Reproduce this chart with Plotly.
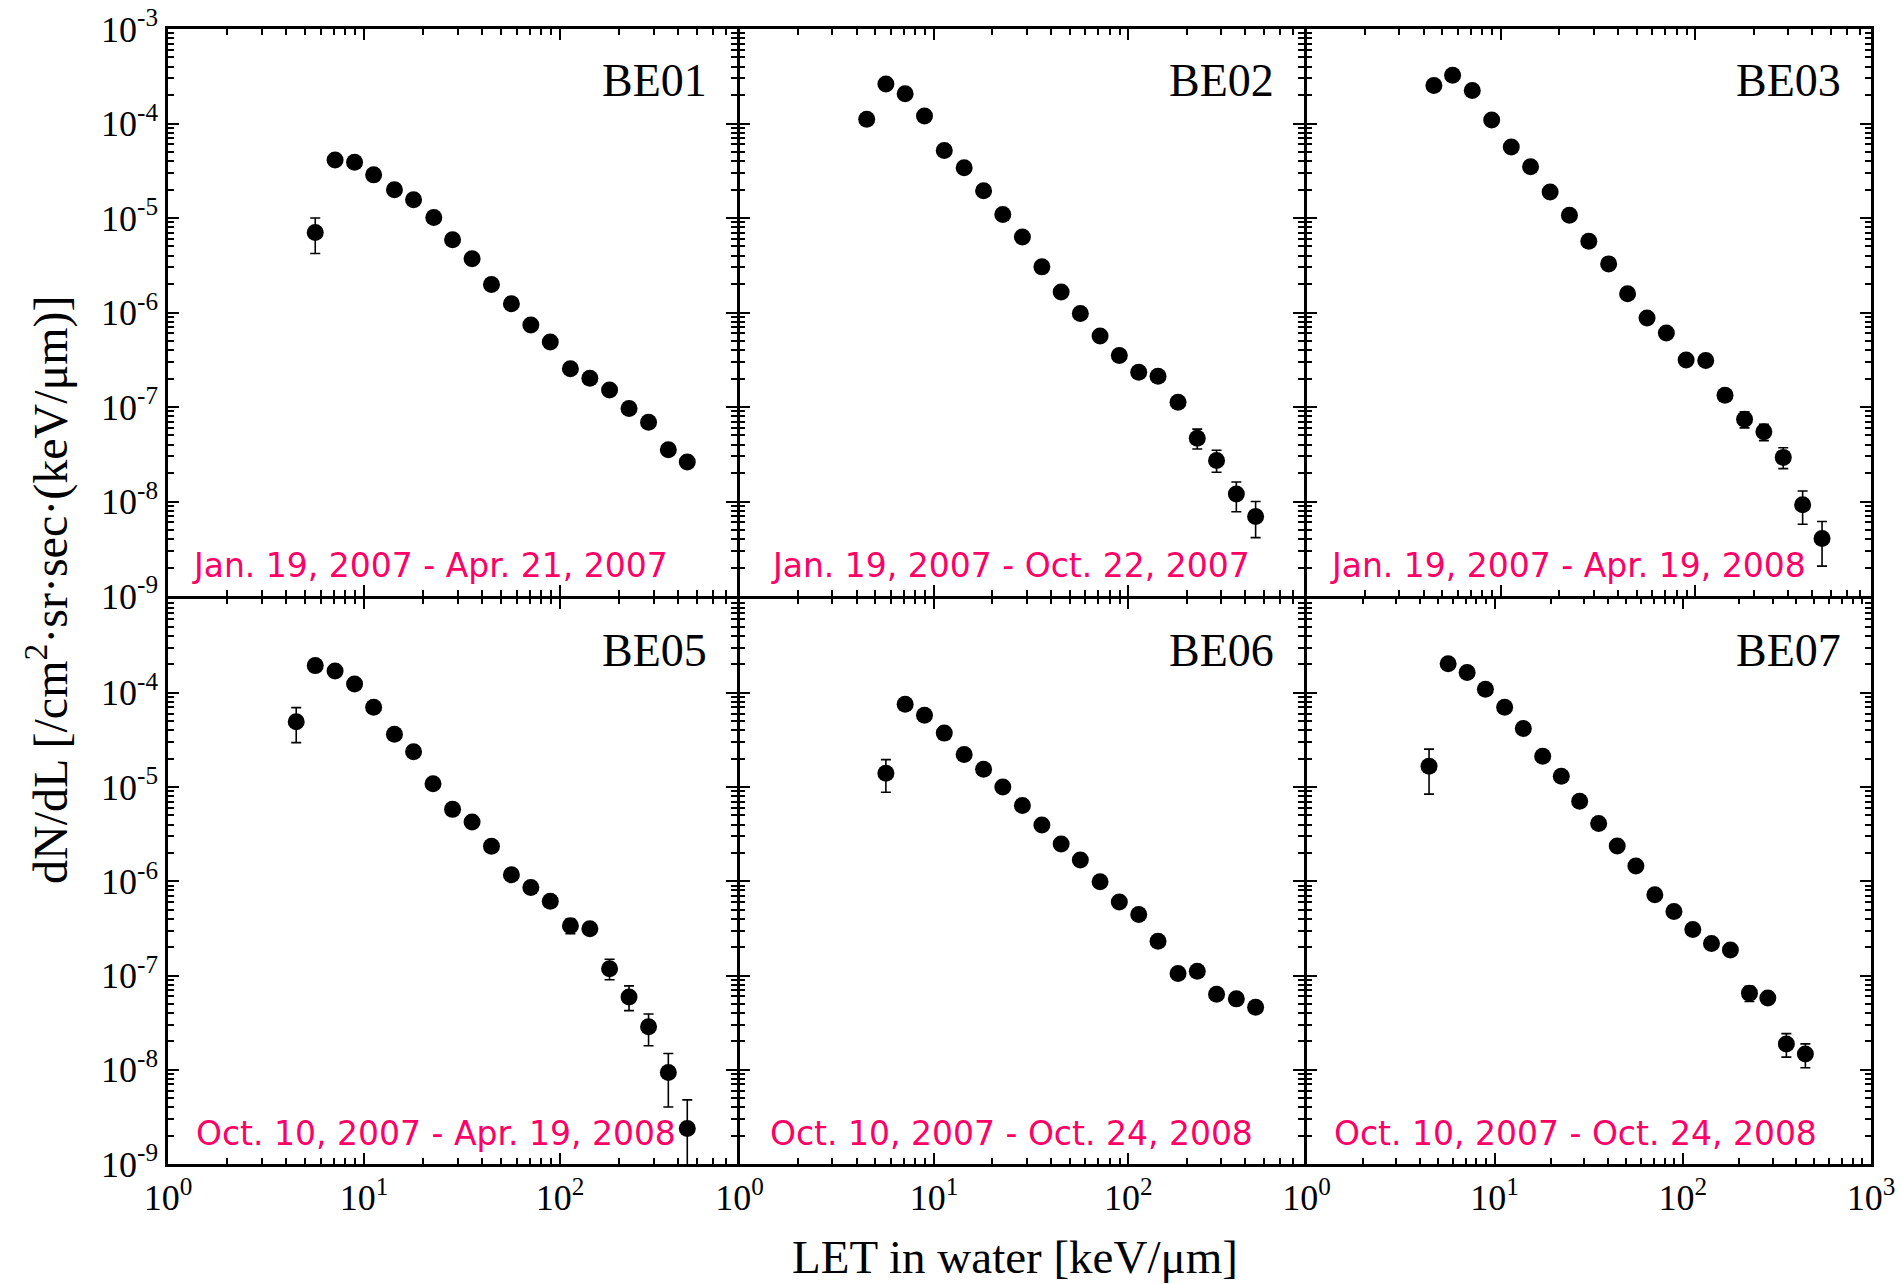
import plotly.graph_objects as go

# ---------------------------------------------------------------- data
# LET in water [keV/um] and differential flux dN/dL [/cm2 sr sec (keV/um)]
let_be01 = [5.64, 7.12, 8.95, 11.2, 14.3, 17.9, 22.7, 28.3, 35.6, 44.7, 56.5, 71.0, 89.2, 113, 142, 179, 225, 283, 357, 446]
flux_be01 = [7.03e-6, 4.11e-5, 3.89e-5, 2.86e-5, 1.99e-5, 1.56e-5, 1.01e-5, 5.89e-6, 3.70e-6, 1.98e-6,
             1.24e-6, 7.39e-7, 4.86e-7, 2.54e-7, 2.01e-7, 1.51e-7, 9.64e-8, 6.89e-8, 3.52e-8, 2.62e-8]
errp_be01 = [2.97e-6] + [0] * 19
errm_be01 = [2.82e-6] + [0] * 19

let_be02 = [4.51, 5.66, 7.11, 8.94, 11.3, 14.3, 18.0, 22.6, 28.5, 35.9, 45.1, 56.6, 71.5, 89.8, 113, 142, 180, 226, 284, 359, 451]
flux_be02 = [1.11e-4, 2.62e-4, 2.07e-4, 1.20e-4, 5.19e-5, 3.41e-5, 1.94e-5, 1.09e-5, 6.28e-6, 3.04e-6, 1.65e-6,
             9.77e-7, 5.65e-7, 3.51e-7, 2.33e-7, 2.12e-7, 1.12e-7, 4.66e-8, 2.72e-8, 1.20e-8, 6.92e-9]
errp_be02 = [1.5e-5] + [0] * 16 + [1.17e-8, 0.77e-8, 0.41e-8, 3.08e-9]
errm_be02 = [1.5e-5] + [0] * 16 + [1.06e-8, 0.68e-8, 0.42e-8, 2.77e-9]

let_be03 = [4.52, 5.64, 7.12, 8.96, 11.3, 14.2, 17.9, 22.5, 28.3, 35.8, 44.8, 56.4, 70.9, 89.6, 113, 142, 179, 225, 283, 356, 448]
flux_be03 = [2.52e-4, 3.24e-4, 2.24e-4, 1.09e-4, 5.65e-5, 3.48e-5, 1.88e-5, 1.07e-5, 5.67e-6, 3.27e-6, 1.58e-6,
             8.73e-7, 6.08e-7, 3.14e-7, 3.11e-7, 1.33e-7, 7.42e-8, 5.46e-8, 2.93e-8, 9.25e-9, 4.07e-9]
errp_be03 = [0] * 16 + [1.5e-8, 1.12e-8, 0.77e-8, 3.65e-9, 2.07e-9]
errm_be03 = [0] * 16 + [1.4e-8, 1.05e-8, 0.70e-8, 3.50e-9, 2.00e-9]

let_be05 = [4.51, 5.64, 7.12, 8.95, 11.2, 14.3, 17.9, 22.5, 28.3, 35.6, 44.7, 56.5, 71.0, 89.2, 113, 142, 179, 225, 283, 357, 446]
flux_be05 = [4.93e-5, 1.94e-4, 1.70e-4, 1.24e-4, 7.03e-5, 3.63e-5, 2.37e-5, 1.08e-5, 5.79e-6, 4.26e-6, 2.35e-6,
             1.17e-6, 8.59e-7, 6.14e-7, 3.38e-7, 3.14e-7, 1.18e-7, 5.93e-8, 2.86e-8, 9.35e-9, 2.38e-9]
errp_be05 = [2.03e-5] + [0] * 13 + [0.6e-7, 0, 3.1e-8, 1.83e-8, 1.04e-8, 5.55e-9, 2.41e-9]
errm_be05 = [1.97e-5] + [0] * 13 + [0.6e-7, 0, 2.8e-8, 1.69e-8, 1.06e-8, 5.33e-9, 3.0e-9]

let_be06 = [5.66, 7.11, 8.94, 11.3, 14.3, 18.0, 22.6, 28.5, 35.9, 45.1, 56.6, 71.5, 89.8, 113, 142, 180, 226, 284, 359, 451]
flux_be06 = [1.40e-5, 7.57e-5, 5.78e-5, 3.73e-5, 2.21e-5, 1.54e-5, 1.00e-5, 6.36e-6, 3.95e-6, 2.48e-6,
             1.68e-6, 9.87e-7, 6.02e-7, 4.43e-7, 2.31e-7, 1.05e-7, 1.11e-7, 6.32e-8, 5.65e-8, 4.61e-8]
errp_be06 = [5.5e-6] + [0] * 16 + [0.5e-8, 0, 0]
errm_be06 = [5.2e-6] + [0] * 16 + [0.5e-8, 0, 0]

let_be07 = [4.48, 5.66, 7.14, 8.93, 11.3, 14.2, 18.0, 22.6, 28.3, 35.7, 44.8, 56.3, 71.0, 89.7, 113, 142, 179, 226, 283, 355, 448]
flux_be07 = [1.66e-5, 2.03e-4, 1.64e-4, 1.09e-4, 7.03e-5, 4.18e-5, 2.12e-5, 1.30e-5, 7.05e-6, 4.10e-6, 2.37e-6,
             1.45e-6, 7.19e-7, 4.78e-7, 3.08e-7, 2.18e-7, 1.86e-7, 6.50e-8, 5.76e-8, 1.88e-8, 1.47e-8]
errp_be07 = [8.6e-6] + [0] * 16 + [1.2e-8, 0, 0.54e-8, 0.41e-8]
errm_be07 = [8.2e-6] + [0] * 16 + [1.2e-8, 0, 0.52e-8, 0.42e-8]

detectors = ["BE01", "BE02", "BE03", "BE05", "BE06", "BE07"]
periods = ["Jan. 19, 2007 - Apr. 21, 2007", "Jan. 19, 2007 - Oct. 22, 2007", "Jan. 19, 2007 - Apr. 19, 2008",
           "Oct. 10, 2007 - Apr. 19, 2008", "Oct. 10, 2007 - Oct. 24, 2008", "Oct. 10, 2007 - Oct. 24, 2008"]

x_tickvals = [1, 10, 100, 1000]
x_ticktext = ["10<sup>0</sup>", "10<sup>1</sup>", "10<sup>2</sup>", "10<sup>3</sup>"]
y_tickvals = [1e-3, 1e-4, 1e-5, 1e-6, 1e-7, 1e-8, 1e-9]
y_ticktext = ["10<sup>-3</sup>", "10<sup>-4</sup>", "10<sup>-5</sup>", "10<sup>-6</sup>",
              "10<sup>-7</sup>", "10<sup>-8</sup>", "10<sup>-9</sup>"]

series = [
    (let_be01, flux_be01, errp_be01, errm_be01),
    (let_be02, flux_be02, errp_be02, errm_be02),
    (let_be03, flux_be03, errp_be03, errm_be03),
    (let_be05, flux_be05, errp_be05, errm_be05),
    (let_be06, flux_be06, errp_be06, errm_be06),
    (let_be07, flux_be07, errp_be07, errm_be07),
]

# ---------------------------------------------------------------- layout geometry (pixels)
# Neighbouring frames are offset by one line width so their shared border
# is drawn as a single line.
W, H = 1901, 1284
LW = 2.5
col_px = [(168, 737), (737 + LW, 1304), (1304 + LW, 1871)]
row_px = [(29, 596), (596 + LW, 1164)]
x_log_ranges = [[0, 2.903]] * 5 + [[0, 3]]
date_xshift = [22, 29, 21, 26, 28, 25]

SERIF = "Liberation Serif"
PINK = "#FF0066"

fig = go.Figure()
layout = {}
annotations = []

for i, (lx, fy, ep, em) in enumerate(series):
    n = i + 1
    r, c = divmod(i, 3)
    xs = "" if n == 1 else str(n)
    fig.add_trace(go.Scatter(
        x=lx, y=fy, mode="markers", xaxis="x" + xs, yaxis="y" + xs,
        marker=dict(symbol="circle", size=17, color="black"),
        error_y=dict(type="data", symmetric=False, array=ep, arrayminus=em,
                     color="black", thickness=1.6, width=5),
        showlegend=False, hoverinfo="x+y",
    ))

    x0, x1 = col_px[c]
    y0, y1 = row_px[r]
    common = dict(
        type="log", showgrid=False, zeroline=False, showline=True, automargin=False,
        linecolor="black", linewidth=LW, mirror="allticks",
        ticks="inside", ticklen=11, tickwidth=2, tickcolor="black",
        tickfont=dict(family=SERIF, size=36, color="black"),
        minor=dict(ticks="inside", dtick="D1", ticklen=6, tickwidth=1.5,
                   tickcolor="black", showgrid=False),
    )
    xa = dict(common,
              domain=[x0 / W, x1 / W], range=x_log_ranges[i], anchor="y" + xs,
              tickmode="array", tickvals=x_tickvals, ticktext=x_ticktext,
              showticklabels=(r == 1))
    ytext = list(y_ticktext)
    if r == 1:
        ytext[0] = " "
    ya = dict(common,
              domain=[1 - y1 / H, 1 - y0 / H], range=[-9, -3], anchor="x" + xs,
              tickmode="array", tickvals=y_tickvals, ticktext=ytext,
              showticklabels=(c == 0))
    layout["xaxis" + xs] = xa
    layout["yaxis" + xs] = ya

    annotations.append(dict(
        text=detectors[i], xref="x" + xs + " domain", yref="y" + xs + " domain",
        x=1, y=1, xanchor="right", yanchor="middle", xshift=-28, yshift=-52,
        showarrow=False, font=dict(family=SERIF, size=46, color="black")))
    annotations.append(dict(
        text=periods[i], xref="x" + xs + " domain", yref="y" + xs + " domain",
        x=0, y=0, xanchor="left", yanchor="bottom", xshift=date_xshift[i], yshift=9,
        showarrow=False, font=dict(family="DejaVu Sans", size=33, color=PINK)))

annotations.append(dict(
    text="LET in water [keV/μm]", xref="paper", yref="paper",
    x=1015 / W, y=1 - 1257 / H, xanchor="center", yanchor="middle",
    showarrow=False, font=dict(family=SERIF, size=47, color="black")))
annotations.append(dict(
    text="dN/dL [/cm<sup>2</sup>·sr·sec·(keV/μm)]", xref="paper", yref="paper",
    x=47 / W, y=1 - 590 / H, xanchor="center", yanchor="middle", textangle=-90,
    showarrow=False, font=dict(family=SERIF, size=48, color="black")))

fig.update_layout(
    width=W, height=H,
    margin=dict(l=0, r=0, t=0, b=0, autoexpand=False),
    paper_bgcolor="white", plot_bgcolor="white",
    annotations=annotations,
    **layout,
)

fig.write_html("out.html")
